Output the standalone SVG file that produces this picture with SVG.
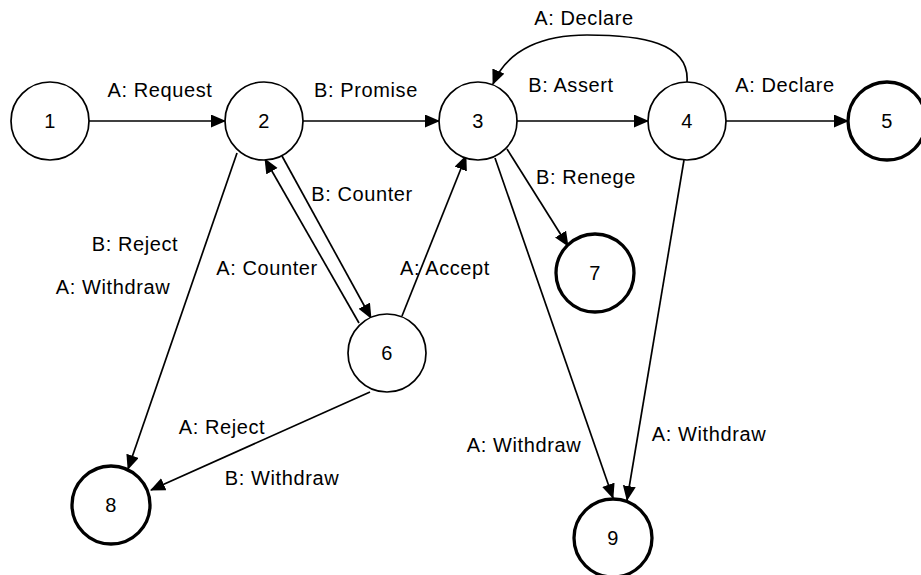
<svg xmlns="http://www.w3.org/2000/svg" width="921" height="575" viewBox="0 0 921 575">
<style>
  .n circle { fill: #fff; stroke: #000; stroke-width: 1.7; }
  .f circle { stroke-width: 3.3; }
  text { font-family: "Liberation Sans", Arial, sans-serif; font-size: 20px; fill: #000; text-anchor: middle; letter-spacing: 0.6px; }
  .e path { fill: none; stroke: #000; stroke-width: 1.7; marker-end: url(#arr); }
</style>
<defs>
  <marker id="arr" markerUnits="userSpaceOnUse" markerWidth="16" markerHeight="14" refX="14" refY="6.5" orient="auto">
    <path d="M0,0 L15,6.5 L0,13 z" fill="#000"/>
  </marker>
</defs>
<rect width="921" height="575" fill="#fff"/>
<g id="edges" class="e">
  <path d="M89,121 L225,121"/>
  <path d="M303,121 L439,121"/>
  <path d="M517,121 L648,121"/>
  <path d="M726,121 L848,121"/>
  <path d="M687,82 C690,42 640,35 587,35 C545,35 508,48 493,84"/>
  <path d="M282,156 L371,318"/>
  <path d="M359,323 L265,159"/>
  <path d="M402,316 L466,156"/>
  <path d="M507,149 L568,246"/>
  <path d="M495,158 L613,498"/>
  <path d="M684,160 L627,500"/>
  <path d="M237,153 L128,469"/>
  <path d="M370,392 L151,490"/>
</g>
<g id="labels">
  <text x="160" y="97">A: Request</text>
  <text x="366" y="97">B: Promise</text>
  <text x="571" y="92">B: Assert</text>
  <text x="584" y="25">A: Declare</text>
  <text x="785" y="92">A: Declare</text>
  <text x="586" y="184">B: Renege</text>
  <text x="362" y="201">B: Counter</text>
  <text x="267" y="275">A: Counter</text>
  <text x="445" y="275">A: Accept</text>
  <text x="135" y="251">B: Reject</text>
  <text x="113" y="294">A: Withdraw</text>
  <text x="222" y="434">A: Reject</text>
  <text x="282" y="485">B: Withdraw</text>
  <text x="524" y="452">A: Withdraw</text>
  <text x="709" y="441">A: Withdraw</text>
</g>
<g id="node1" class="n"><circle cx="50" cy="121" r="39"/><text x="50" y="128">1</text></g>
<g id="node2" class="n"><circle cx="264" cy="121" r="39"/><text x="264" y="128">2</text></g>
<g id="node3" class="n"><circle cx="478" cy="121" r="39"/><text x="478" y="128">3</text></g>
<g id="node4" class="n"><circle cx="687" cy="121" r="39"/><text x="687" y="128">4</text></g>
<g id="node5" class="n f"><circle cx="887" cy="121" r="39"/><text x="887" y="128">5</text></g>
<g id="node6" class="n"><circle cx="387" cy="353" r="39"/><text x="387" y="360">6</text></g>
<g id="node7" class="n f"><circle cx="595" cy="273" r="39"/><text x="595" y="280">7</text></g>
<g id="node8" class="n f"><circle cx="111" cy="505" r="39"/><text x="111" y="512">8</text></g>
<g id="node9" class="n f"><circle cx="613" cy="538" r="39"/><text x="613" y="545">9</text></g>
</svg>
